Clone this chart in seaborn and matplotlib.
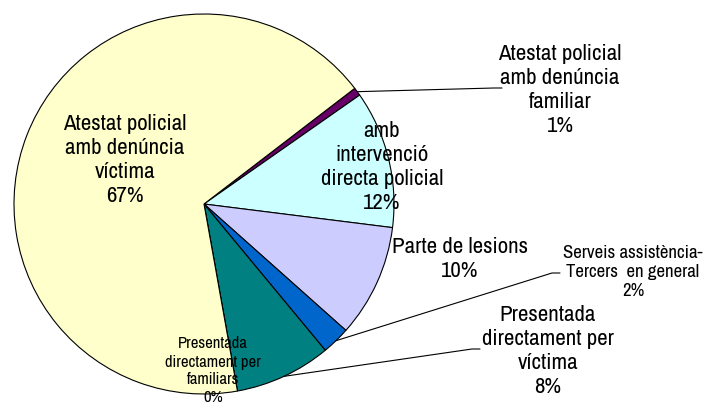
import numpy as np
import matplotlib
matplotlib.use('Agg')
import matplotlib.pyplot as plt
import seaborn as sns

# slices in clockwise order, starting at the small purple one
categories = ['Atestat policial\namb denúncia\nfamiliar',
              'amb\nintervenció\ndirecta policial',
              'Parte de lesions',
              'Serveis assistència-\nTercers  en general',
              'Presentada\ndirectament per\nvíctima',
              'Presentada\ndirectament per\nfamiliars',
              'Atestat policial\namb denúncia\nvíctima']
values = [0.7, 11.7, 9.6, 2.4, 8.2, 0.0, 67.4]
colors = ['#660066', '#CCFFFF', '#CCCCFF', '#0066CC', '#008080', '#FF8080', '#FFFFCC']

sns.set_theme(style='white')
plt.rcParams['font.family'] = ['Archivo Narrow', 'DejaVu Sans']
plt.rcParams['font.stretch'] = 'condensed'

W, H = 704, 407
fig = plt.figure(figsize=(W / 100, H / 100), dpi=100)
ax = fig.add_axes([0, 0, 1, 1])

cx, cy, r = 204, H - 204, 190
wedges, _ = ax.pie(values, colors=colors, startangle=37.5, counterclock=False,
                   center=(cx, cy), radius=r, frame=True,
                   wedgeprops=dict(edgecolor='black', linewidth=0.8))
ax.set_xlim(0, W)
ax.set_ylim(0, H)
ax.axis('off')

total = sum(values)
# label layout: (x, y in image pixels), font size, leader end (or None)
layout = [((560, 90), 16.5, (502, 88)),
          ((382, 167), 16.5, None),
          ((460, 259), 16.5, None),
          ((633, 272), 13.5, (560, 273)),
          ((548, 351), 16.5, (480, 349)),
          ((213, 371), 12, None),
          ((125, 160), 16.5, None)]

for w, cat, v, (pos, fs, lead) in zip(wedges, categories, values, layout):
    pct = '%.0f%%' % (v / total * 100)
    ax.text(pos[0], H - pos[1], cat + '\n' + pct, ha='center', va='center',
            fontsize=fs, color='black', linespacing=1.25)
    if lead is not None:
        th = np.deg2rad((w.theta1 + w.theta2) / 2)
        x0, y0 = cx + r * np.cos(th), cy + r * np.sin(th)
        ax.plot([x0, lead[0] - 8, lead[0]], [y0, H - lead[1], H - lead[1]],
                color='black', linewidth=0.8)

fig.savefig('out.png', dpi=100)
